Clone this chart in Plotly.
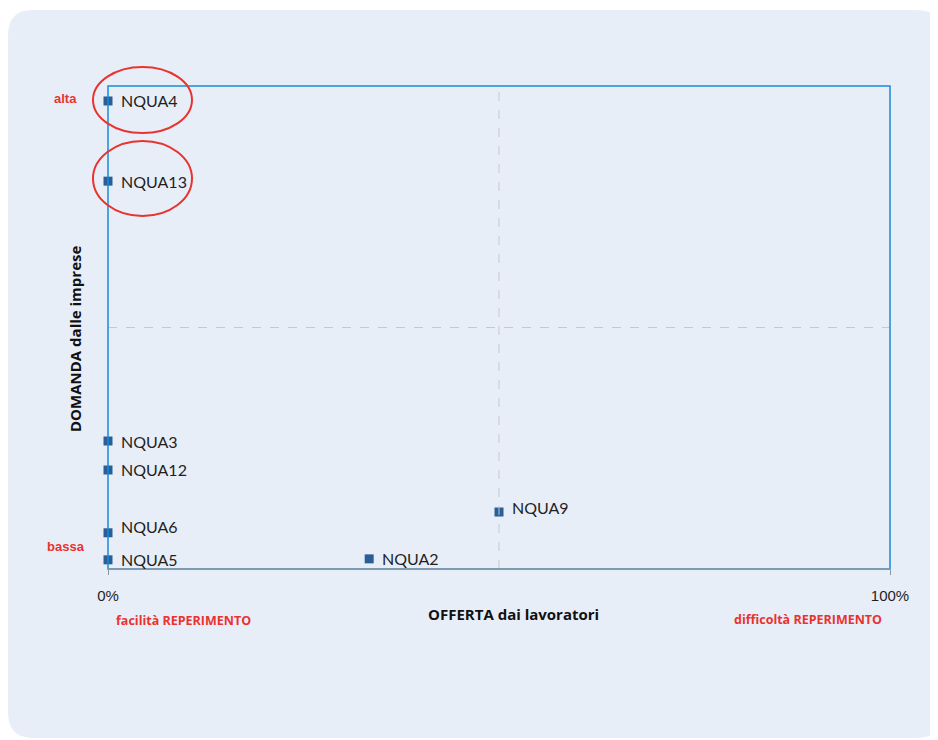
import plotly.graph_objects as go

# Data
labels = ["NQUA4", "NQUA13", "NQUA3", "NQUA12", "NQUA6", "NQUA5", "NQUA2", "NQUA9"]
offerta = [0, 0, 0, 0, 0, 0, 33.4, 50]          # % difficoltà di reperimento
domanda = [96.9, 80.3, 26.5, 20.5, 7.5, 1.9, 2.1, 11.8]
label_shift = [0, 0, 0, 0, 6, 0, 0, 5]
x_ticks = [0, 100]
x_ticklabels = ["0%", "100%"]

# page body has an 8px margin; figure sits at (8, 8) in the window
OFF = 8
W, H = 938 - OFF, 740 - OFF
L, R, T, B = 108, 890, 86, 569   # window pixel coords of plot area

def px(x):
    return (x - L) / (R - L)

def py(y):
    return (B - y) / (B - T)

fig = go.Figure()
fig.add_trace(go.Scatter(
    x=offerta, y=domanda, mode="markers",
    marker=dict(symbol="square", size=9, color="#2a5e96"),
    hoverinfo="text", text=labels, showlegend=False, cliponaxis=False,
))

annotations = []
for lab, xv, yv, sh in zip(labels, offerta, domanda, label_shift):
    annotations.append(dict(x=xv, y=yv, xref="x", yref="y", text=lab, showarrow=False,
                            xanchor="left", yanchor="middle", xshift=11, yshift=sh,
                            font=dict(family="Lato, Open Sans, sans-serif", size=16, color="#1f1f1f")))

red = "#e8332f"

def note(x, y, text, size, color, family, angle=0):
    return dict(xref="paper", yref="paper", x=px(x), y=py(y), text=text, showarrow=False,
                xanchor="center", yanchor="middle", textangle=angle,
                font=dict(family=family, size=size, color=color))

annotations += [
    note(65, 98, "<b>alta</b>", 13, red, "Liberation Sans, Arial"),
    note(66, 546, "<b>bassa</b>", 13, red, "Liberation Sans, Arial"),
    note(183, 620, "<b>facilità REPERIMENTO</b>", 12.5, red, "Open Sans, sans-serif"),
    note(808, 619, "<b>difficoltà REPERIMENTO</b>", 12.5, red, "Open Sans, sans-serif"),
    note(513, 614, "<b>OFFERTA dai lavoratori</b>", 15, "#111111", "Open Sans, sans-serif"),
    note(75, 339, "<b>DOMANDA dalle imprese</b>", 15, "#111111", "Open Sans, sans-serif", -90),
]

shapes = [
    # panel background
    dict(type="path", xref="paper", yref="paper", layer="below",
         path=("M {a},{b} L {c},{b} Q {d},{b} {d},{e} L {d},{f} Q {d},{g} {c},{g} L {a},{g} Q {h},{g} {h},{f} L {h},{e} Q {h},{b} {a},{b} Z").format(
             a=px(33), c=px(915), d=px(945), b=py(10), e=py(35), f=py(712), g=py(738), h=px(8)),
         fillcolor="#e8eef8", line=dict(width=0)),
    # dashed mid lines
    dict(type="line", xref="x", yref="paper", x0=50, x1=50, y0=0, y1=1,
         line=dict(color="#c4c8cf", width=1, dash="dash")),
    dict(type="line", xref="paper", yref="y", x0=0, x1=1, y0=50, y1=50,
         line=dict(color="#c4c8cf", width=1, dash="dash")),
    # plot frame
    dict(type="rect", xref="paper", yref="paper", x0=0, x1=1, y0=0, y1=1,
         line=dict(color="#1a8ad6", width=1.5)),
    dict(type="line", xref="paper", yref="paper", x0=0, x1=1, y0=0, y1=0,
         line=dict(color="#8c98a4", width=1.5)),
    # ellipses
    dict(type="circle", xref="paper", yref="paper", x0=px(93), x1=px(192), y0=py(133), y1=py(67),
         line=dict(color=red, width=2)),
    dict(type="circle", xref="paper", yref="paper", x0=px(93), x1=px(192), y0=py(216), y1=py(141),
         line=dict(color=red, width=2)),
]

fig.update_layout(
    width=W, height=H,
    margin=dict(l=L - OFF, r=938 - R, t=T - OFF, b=740 - B),
    paper_bgcolor="white", plot_bgcolor="rgba(0,0,0,0)",
    xaxis=dict(range=[0, 100], showgrid=False, zeroline=False, showline=False,
               tickmode="array", tickvals=x_ticks, ticktext=x_ticklabels,
               ticks="outside", ticklen=5, tickcolor="#8c98a4", ticklabelstandoff=8,
               tickfont=dict(family="Liberation Sans, Arial", size=15, color="#1f1f1f")),
    yaxis=dict(range=[0, 100], showgrid=False, zeroline=False, showline=False,
               showticklabels=False, ticks=""),
    annotations=annotations, shapes=shapes,
)

fig.write_html("out.html")
